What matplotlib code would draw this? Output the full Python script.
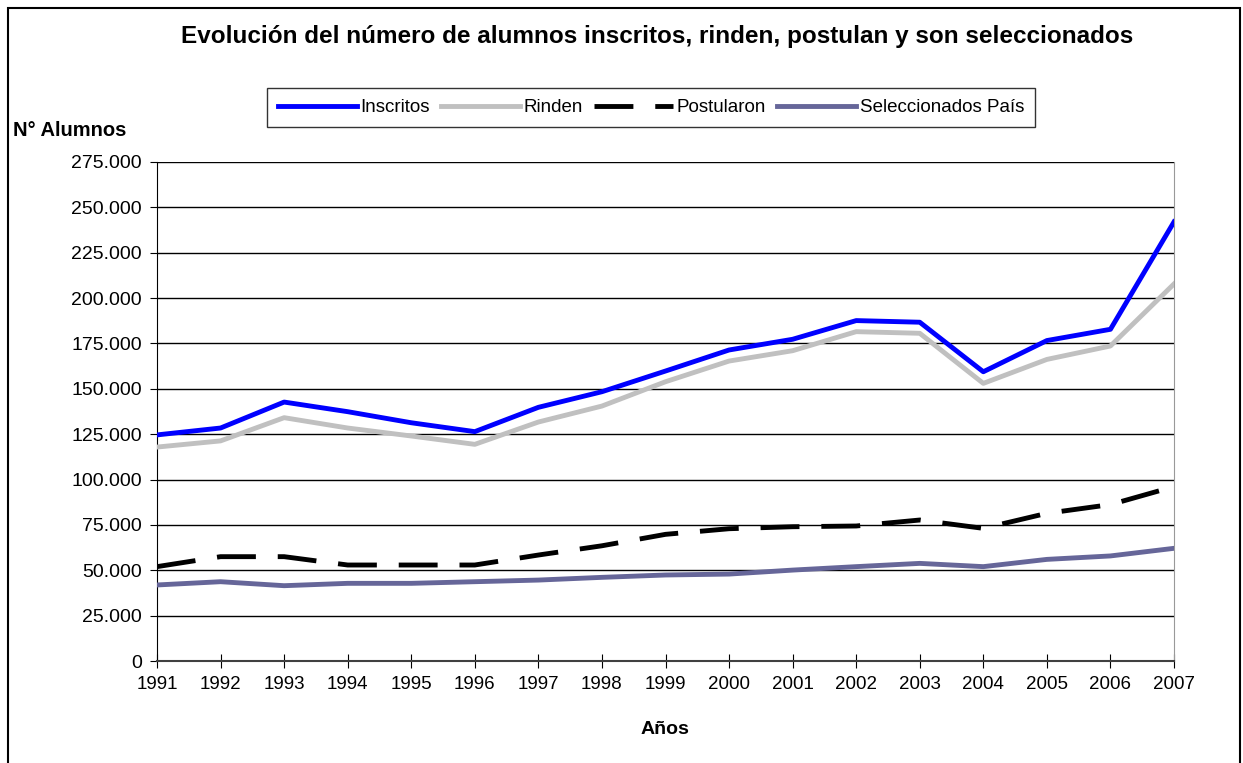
import matplotlib
matplotlib.use("Agg")
import matplotlib.pyplot as plt
from matplotlib.ticker import FuncFormatter
from matplotlib.patches import Rectangle

plt.rcParams['font.family'] = ['Liberation Sans', 'DejaVu Sans']

anios = list(range(1991, 2008))
inscritos = [124600, 128400, 142700, 137400, 131300, 126400, 139800, 148400, 159800,
             171400, 177300, 187600, 186700, 159400, 176600, 182800, 242000]
rinden = [117900, 121300, 134100, 128400, 124000, 119400, 131700, 140500, 153900,
          165300, 171000, 181500, 180600, 153000, 166200, 173600, 207800]
postularon = [52000, 57500, 57500, 52900, 52900, 52900, 58400, 63500, 69800,
              72900, 74000, 74400, 77700, 73100, 81400, 86200, 96100]
seleccionados = [41900, 43700, 41500, 42800, 42800, 43700, 44600, 46100, 47400,
                 47900, 50100, 52000, 53800, 52000, 56000, 57900, 62100]

fig = plt.figure(figsize=(12.43, 7.63), dpi=100)
ax = fig.add_axes([157/1243, 102/763, 1017/1243, 499/763])

ax.plot(anios, inscritos, color='#0000FF', lw=3.5, label='Inscritos', zorder=5)
ax.plot(anios, rinden, color='#C0C0C0', lw=3.5, label='Rinden', zorder=4)
ax.plot(anios, postularon, color='black', lw=3.5, dashes=(8, 4.5), label='Postularon', zorder=4)
ax.plot(anios, seleccionados, color='#666699', lw=3.5, label='Seleccionados País', zorder=4)

ax.set_xlim(1991, 2007)
ax.set_ylim(0, 275000)
ax.set_xticks(anios)
ax.set_yticks(range(0, 275001, 25000))
ax.yaxis.set_major_formatter(FuncFormatter(lambda v, p: f"{int(v):,}".replace(",", ".")))
ax.grid(axis='y', color='black', lw=1)
ax.set_axisbelow(True)

ax.spines['top'].set_visible(False)
ax.spines['right'].set_color('#999999')
ax.spines['left'].set_color('black')
ax.spines['bottom'].set_color('#404040')
ax.spines['bottom'].set_linewidth(1.5)
ax.tick_params(axis='y', direction='out', length=5, labelsize=14, pad=6)
ax.tick_params(axis='x', direction='inout', length=10, labelsize=13.5, pad=6)

fig.text(657/1243, 1-37/763, "Evolución del número de alumnos inscritos, rinden, postulan y son seleccionados",
         ha='center', va='center', fontsize=17.5, fontweight='bold')
fig.text(13/1243, 1-130/763, "N° Alumnos", ha='left', va='center', fontsize=14.5, fontweight='bold')
fig.text(665/1243, 1-730/763, "Años", ha='center', va='center', fontsize=14, fontweight='bold')

leg = fig.legend(loc='center', bbox_to_anchor=(651/1243, 1-107.5/763), ncol=4, fontsize=13.5,
                 frameon=True, fancybox=False, edgecolor='black', handlelength=4.2,
                 handletextpad=0.2, columnspacing=0.6, borderpad=0.6)
leg.get_frame().set_linewidth(1)

fig.patches.append(Rectangle((8/1243, -0.02), 1232/1243, 1.02 - 8/763, transform=fig.transFigure,
                             fill=False, edgecolor='black', lw=1.5))

fig.savefig("out.png", dpi=100)
